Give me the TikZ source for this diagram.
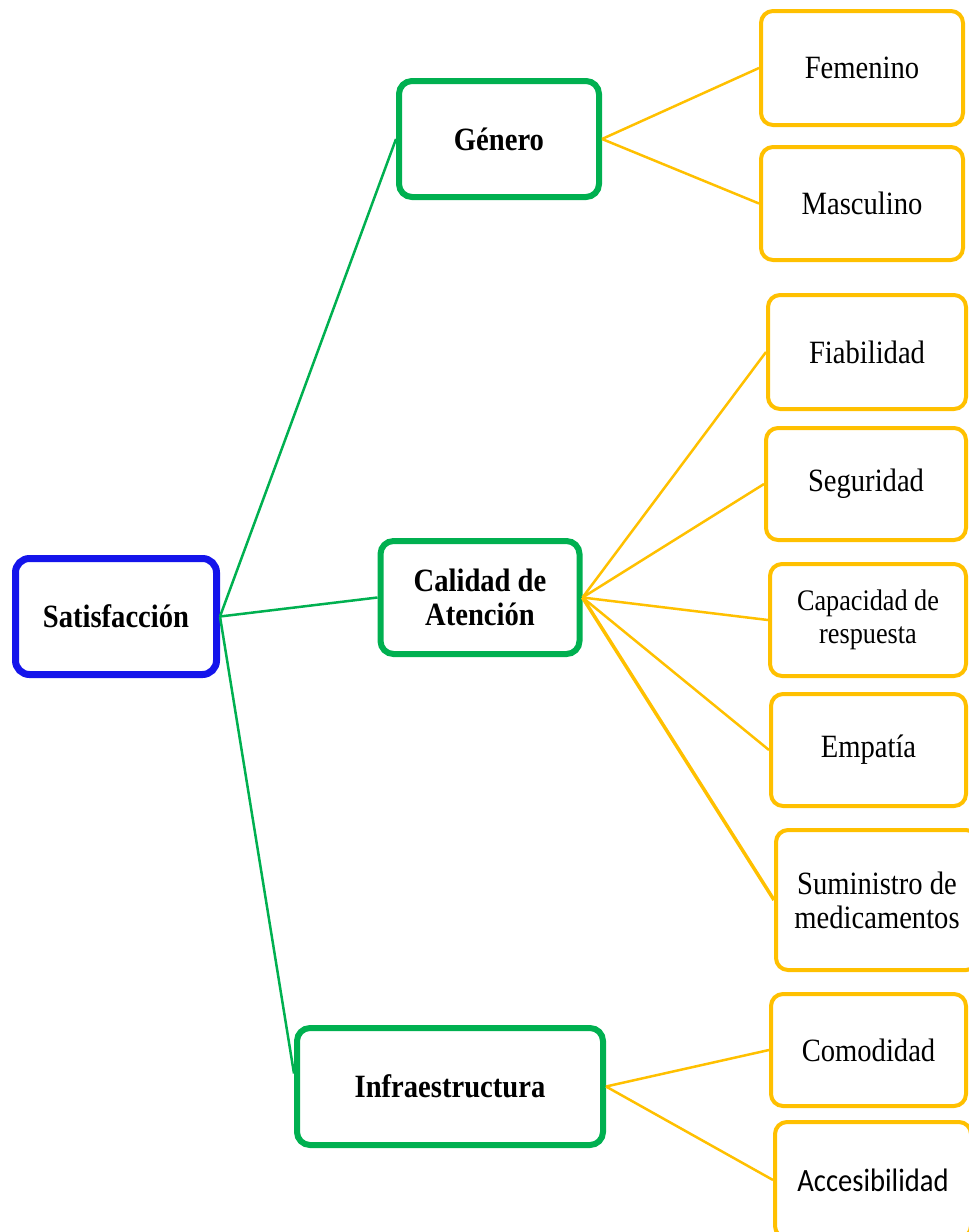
\documentclass[tikz,border=0pt]{standalone}
\usepackage{fontspec}
\setmainfont[FakeStretch=0.88]{Liberation Serif}
\newfontfamily\sansbox[FakeStretch=0.88]{Carlito}
\definecolor{rootblue}{RGB}{20,20,235}
\definecolor{midgreen}{RGB}{0,176,80}
\definecolor{leaforange}{RGB}{255,192,0}
\tikzset{
  rootbox/.style={draw=rootblue, line width=7pt, rounded corners=14pt, fill=white,
    align=center, inner sep=0pt, font=\bfseries\fontsize{32.5}{34}\selectfont},
  midbox/.style={draw=midgreen, line width=6pt, rounded corners=13pt, fill=white,
    align=center, inner sep=0pt, font=\bfseries\fontsize{32.5}{34}\selectfont},
  leafbox/.style={draw=leaforange, line width=4pt, rounded corners=12pt, fill=white,
    align=center, inner sep=0pt, font=\fontsize{32.5}{34}\selectfont},
  branch/.style={draw=midgreen, line width=2.5pt},
  twig/.style={draw=leaforange, line width=2.5pt},
}
\begin{document}
\begin{tikzpicture}[x=1pt,y=-1pt]
\useasboundingbox (0,0) rectangle (969,1232);
\begin{scope}
\clip (0,0) rectangle (969,1232);

% root
\node[rootbox, minimum width=201pt, minimum height=116pt] (sat) at (116,616.5) {Satisfacción};

% second level
\node[midbox, minimum width=200pt, minimum height=116pt] (gen) at (499,139) {Género};
\node[midbox, minimum width=199pt, minimum height=113pt] (cal) at (480,597.5) {Calidad de\\Atención};
\node[midbox, minimum width=306pt, minimum height=117pt] (inf) at (450,1086.5) {Infraestructura};

% leaves
\node[leafbox, minimum width=202pt, minimum height=114pt] (fem) at (862,68) {Femenino};
\node[leafbox, minimum width=202pt, minimum height=113pt] (mas) at (862,203.5) {Masculino};
\node[leafbox, minimum width=198pt, minimum height=114pt] (fia) at (867,352) {Fiabilidad};
\node[leafbox, minimum width=200pt, minimum height=112pt] (seg) at (866,484) {Seguridad};
\node[leafbox, minimum width=196pt, minimum height=112pt,
      font=\fontsize{29.8}{33}\selectfont] (cap) at (868,620) {Capacidad de\\respuesta};
\node[leafbox, minimum width=195pt, minimum height=112pt] (emp) at (868.5,750) {Empatía};
\node[leafbox, minimum width=202pt, minimum height=140pt] (sum) at (877,900) {Suministro de\\medicamentos};
\node[leafbox, minimum width=195pt, minimum height=112pt] (com) at (868.5,1050) {Comodidad};
\node[leafbox, minimum width=196pt, minimum height=116pt,
      font=\sansbox\fontsize{32.5}{34}\selectfont] (acc) at (873,1180) {Accesibilidad};

% root to second level
\draw[branch] (sat.east) -- (gen.west);
\draw[branch] (sat.east) -- (cal.west);
\draw[branch] (sat.east) -- ([yshift=13pt]inf.west);

% second level to leaves
\draw[twig] (gen.east) -- (fem.west);
\draw[twig] (gen.east) -- (mas.west);
\draw[twig] (cal.east) -- (fia.west);
\draw[twig] (cal.east) -- (seg.west);
\draw[twig] (cal.east) -- (cap.west);
\draw[twig] (cal.east) -- (emp.west);
\draw[twig, line width=3.5pt] (cal.east) -- (sum.west);
\draw[twig] (inf.east) -- (com.west);
\draw[twig] (inf.east) -- (acc.west);
\end{scope}
\end{tikzpicture}
\end{document}
